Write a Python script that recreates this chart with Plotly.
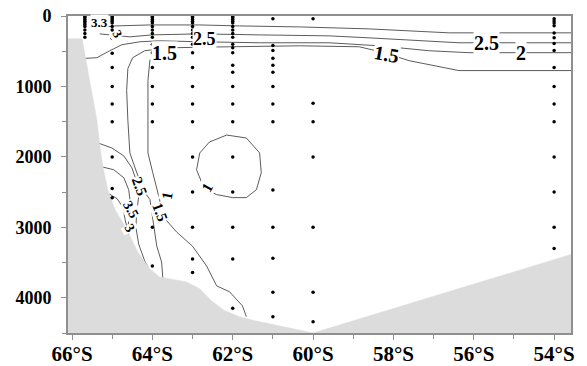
import plotly.graph_objects as go

# ---- axes --------------------------------------------------------------
LAT_TICKS = [-66, -64, -62, -60, -58, -56, -54]
LAT_LABELS = ["66°S", "64°S", "62°S", "60°S", "58°S", "56°S", "54°S"]
DEPTH_TICKS = [0, 1000, 2000, 3000, 4000]
DEPTH_LABELS = ["0", "1000", "2000", "3000", "4000"]

# ---- bottom topography (latitude, depth in m) --------------------------
bottom_lat = [-66.1, -65.75, -65.38, -65.31, -65.23, -65.11, -64.93, -64.64,
              -64.36, -64.06, -63.82, -63.15, -62.82, -62.53, -62.20, -61.83,
              -61.46, -60.0, -53.58]
bottom_depth = [324, 324, 1479, 1831, 2141, 2465, 2747, 3028,
                3352, 3592, 3704, 3775, 3873, 4042, 4183, 4268,
                4324, 4500, 3385]

# ---- CTD stations and sampling depths ----------------------------------
station_lat = [-65.68, -65.0, -64.0, -63.0, -62.0, -61.0, -60.0, -54.0]
depths_6568 = [10, 25, 50, 75, 100, 125, 150, 200, 250, 300]
depths_6500 = [10, 30, 50, 75, 100, 150, 200, 320, 530, 730, 1000, 1250,
               1500, 2000, 2450, 2580]
depths_6400 = [10, 30, 50, 75, 100, 150, 200, 250, 300, 400, 520, 730,
               1000, 1250, 1500, 3000, 3550]
depths_6300 = [10, 30, 50, 75, 100, 150, 200, 250, 300, 400, 520, 730,
               1000, 1250, 1500, 2000, 2500, 3000, 3450, 3640]
depths_6200 = [10, 30, 50, 75, 100, 150, 200, 250, 300, 400, 450, 520, 700,
               800, 1000, 1250, 1500, 2000, 2500, 3000, 3450, 4150]
depths_6100 = [40, 420, 490, 600, 700, 800, 1000, 1250, 1500, 2470, 3000,
               3440, 3920, 4270]
depths_6000 = [40, 1240, 1500, 2000, 3000, 3920, 4340]
depths_5400 = [40, 70, 100, 140, 240, 310, 390, 490, 730, 1000, 1250, 1500,
               2000, 2500, 3000, 3300]
station_depths = [depths_6568, depths_6500, depths_6400, depths_6300,
                  depths_6200, depths_6100, depths_6000, depths_5400]

# ---- isotherms (latitude, depth) ---------------------------------------
iso3_lat = [-65.43, -64.93, -64.06, -62.82, -61.83, -60.34, -58.61, -57.61,
            -56.62, -53.58]
iso3_depth = [169, 141, 127, 127, 141, 155, 183, 211, 239, 239]

iso25_lat = [-65.31, -64.56, -64.01, -62.82, -61.34, -59.60, -58.61, -57.36,
             -56.37, -53.58]
iso25_depth = [254, 296, 268, 254, 268, 282, 310, 352, 380, 380]

iso2_lat = [-65.80, -65.38, -65.06, -64.76, -64.31, -63.82, -62.82, -61.34,
            -59.60, -58.36, -57.12, -56.12, -53.58]
iso2_depth = [606, 592, 493, 408, 366, 352, 366, 380, 380, 423, 493, 521, 521]

iso15_lat = [-63.74, -63.77, -63.89, -63.99, -64.06, -64.24, -64.39, -64.56,
             -64.61, -64.64, -64.61, -64.49, -64.19, -63.57, -62.08, -60.34,
             -58.85, -58.23, -57.61, -56.87, -56.37, -53.58]
iso15_depth = [3718, 3493, 3268, 2887, 2606, 2465, 2225, 1944,
               1479, 1056, 747, 592, 493, 451, 437, 423,
               437, 521, 634, 718, 775, 775]

iso1_lat = [-64.06, -64.11, -64.11, -64.11, -63.99, -63.82, -63.74, -63.39,
            -63.00, -62.65, -62.40, -62.08, -61.76, -61.66]
iso1_depth = [620, 916, 1479, 1944, 2225, 2606, 2845, 3070,
              3268, 3549, 3831, 3915, 4113, 4268]

loop1_lat = [-62.90, -62.82, -62.58, -62.15, -61.66, -61.33, -61.29, -61.41,
             -61.66, -62.00, -62.40, -62.65, -62.77, -62.90]
loop1_depth = [2183, 1944, 1789, 1690, 1732, 1944, 2225, 2465,
               2578, 2578, 2535, 2465, 2366, 2183]

slope25_lat = [-65.35, -65.01, -64.71, -64.51, -64.39, -64.34, -64.39,
               -64.41, -64.34, -64.19, -64.11]
slope25_depth = [1803, 1873, 1986, 2155, 2352, 2563, 2775, 3000, 3239,
                 3479, 3563]

slope3_lat = [-65.26, -64.96, -64.71, -64.59, -64.54, -64.59, -64.61,
              -64.54, -64.46]
slope3_depth = [2141, 2183, 2296, 2465, 2676, 2887, 3056, 3239, 3310]

slope35_lat = [-65.13, -64.88, -64.73, -64.68, -64.61]
slope35_depth = [2507, 2592, 2718, 2887, 3056]

isolines = [(iso3_lat, iso3_depth), (iso25_lat, iso25_depth),
            (iso2_lat, iso2_depth), (iso15_lat, iso15_depth),
            (iso1_lat, iso1_depth), (loop1_lat, loop1_depth),
            (slope25_lat, slope25_depth), (slope3_lat, slope3_depth),
            (slope35_lat, slope35_depth)]

# ---- isotherm labels ---------------------------------------------------
label_text = ["1.5", "2.5", "1.5", "2.5", "2", "3.3", "3",
              "2.5", "1", "1.5", "3.5", "3", "1"]
label_lat = [-63.69, -62.70, -58.18, -55.68, -54.83, -65.31, -64.88,
             -64.31, -63.64, -63.82, -64.54, -64.56, -62.63]
label_depth = [520, 324, 540, 380, 521, 99, 254,
               2423, 2549, 2789, 2747, 3014, 2423]
label_size = [20, 18, 20, 20, 20, 13, 13, 15, 15, 15, 14, 14, 15]
label_angle = [0, 0, 10, 0, 0, 0, 60, 70, -80, 70, 60, 60, -60]

SERIF = "Liberation Serif"
LINE = "#4a4a4a"
BORDER = "#8f8f8f"

fig = go.Figure()

for lat, dep in isolines:
    fig.add_trace(go.Scatter(x=lat, y=dep, mode="lines",
                             line=dict(color=LINE, width=0.9),
                             hoverinfo="skip"))

# sea floor (filled down to the bottom of the section)
fig.add_trace(go.Scatter(
    x=[bottom_lat[0]] + bottom_lat + [bottom_lat[-1]],
    y=[4500] + bottom_depth + [4500],
    mode="lines", fill="toself", fillcolor="#dcdcdc",
    line=dict(color="#dcdcdc", width=0.5), hoverinfo="skip"))

# sampling points
for lat, deps in zip(station_lat, station_depths):
    fig.add_trace(go.Scatter(x=[lat] * len(deps), y=deps, mode="markers",
                             marker=dict(color="black", size=3.5),
                             hoverinfo="skip"))

for t, la, d, s, a in zip(label_text, label_lat, label_depth, label_size,
                          label_angle):
    fig.add_annotation(x=la, y=d, text=f"<b>{t}</b>", showarrow=False,
                       textangle=a, bgcolor="white", borderpad=0,
                       font=dict(family=SERIF, size=s, color="black"))

fig.update_layout(
    width=587, height=366,
    margin=dict(l=68, r=16, t=16, b=33, autoexpand=False),
    paper_bgcolor="white", plot_bgcolor="white",
    showlegend=False,
)
fig.update_xaxes(
    range=[-66.1, -53.58], tickvals=LAT_TICKS, ticktext=LAT_LABELS,
    ticks="outside", ticklen=5, tickwidth=1, tickcolor=BORDER,
    minor=dict(dtick=1, tick0=-66, ticks="outside", ticklen=4,
               tickcolor=BORDER),
    showline=True, linecolor=BORDER, linewidth=2, mirror=True,
    showgrid=False, zeroline=False, ticklabelstandoff=-4, automargin=False,
    tickfont=dict(family=SERIF, size=21, color="black", weight="bold"),
)
fig.update_yaxes(
    range=[4500, 0], tickvals=DEPTH_TICKS, ticktext=DEPTH_LABELS,
    ticks="outside", ticklen=5, tickwidth=1, tickcolor=BORDER,
    minor=dict(dtick=500, tick0=0, ticks="outside", ticklen=4,
               tickcolor=BORDER),
    showline=True, linecolor=BORDER, linewidth=2, mirror=True,
    showgrid=False, zeroline=False, ticklabelstandoff=6, automargin=False,
    tickfont=dict(family=SERIF, size=18, color="black", weight="bold"),
)

fig.write_html("out.html")
